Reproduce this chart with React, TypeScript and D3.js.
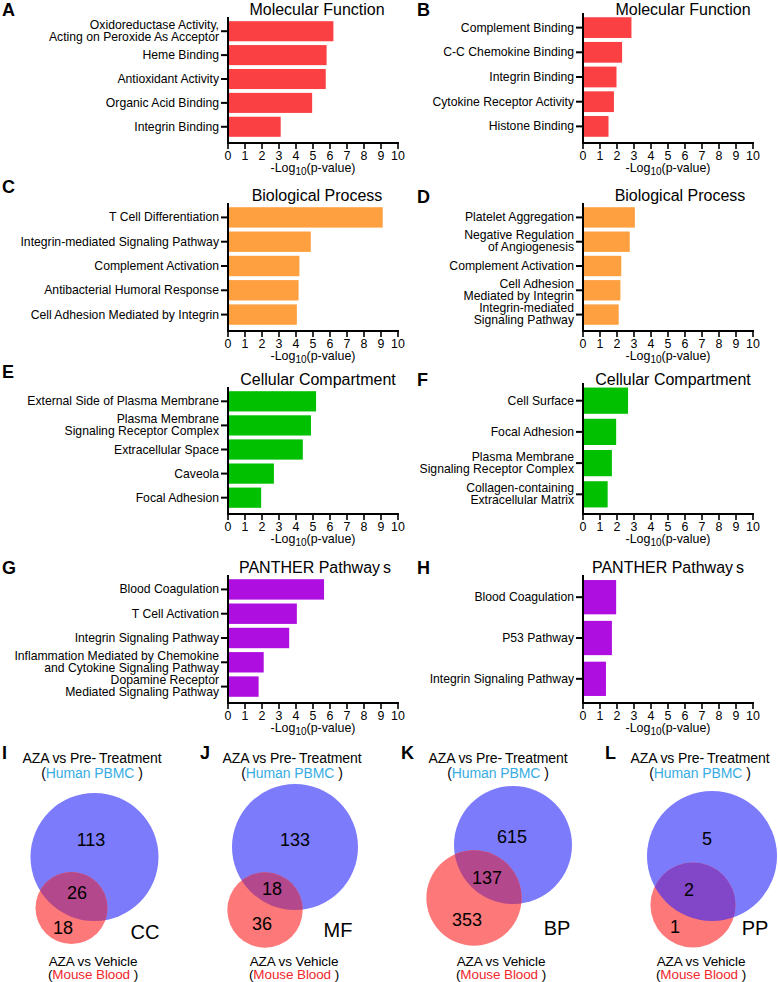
import * as d3 from "d3";
import * as React from "react";

const FONT = "'Liberation Sans', Arial, Helvetica, sans-serif";
const W = 778;
const H = 982;

// GO / PANTHER enrichment, -log10(p-value) per term (human PBMC left, mouse blood right)
const mfHumanTerms = ["Oxidoreductase Activity,\nActing on Peroxide As Acceptor", "Heme Binding", "Antioxidant Activity", "Organic Acid Binding", "Integrin Binding"];
const mfHumanValues = [6.2, 5.8, 5.75, 4.95, 3.1];
const mfMouseTerms = ["Complement Binding", "C-C Chemokine Binding", "Integrin Binding", "Cytokine Receptor Activity", "Histone Binding"];
const mfMouseValues = [2.85, 2.3, 1.97, 1.82, 1.5];
const bpHumanTerms = ["T Cell Differentiation", "Integrin-mediated Signaling Pathway", "Complement Activation", "Antibacterial Humoral Response", "Cell Adhesion Mediated by Integrin"];
const bpHumanValues = [9.1, 4.87, 4.2, 4.15, 4.05];
const bpMouseTerms = ["Platelet Aggregation", "Negative Regulation\nof Angiogenesis", "Complement Activation", "Cell Adhesion\nMediated by Integrin", "Integrin-mediated\nSignaling Pathway"];
const bpMouseValues = [3.05, 2.75, 2.25, 2.2, 2.1];
const ccHumanTerms = ["External Side of Plasma Membrane", "Plasma Membrane\nSignaling Receptor Complex", "Extracellular Space", "Caveola", "Focal Adhesion"];
const ccHumanValues = [5.18, 4.88, 4.4, 2.7, 1.95];
const ccMouseTerms = ["Cell Surface", "Focal Adhesion", "Plasma Membrane\nSignaling Receptor Complex", "Collagen-containing\nExtracellular Matrix"];
const ccMouseValues = [2.65, 1.95, 1.7, 1.45];
const ppHumanTerms = ["Blood Coagulation", "T Cell Activation", "Integrin Signaling Pathway", "Inflammation Mediated by Chemokine\nand Cytokine Signaling Pathway", "Dopamine Receptor\nMediated Signaling Pathway"];
const ppHumanValues = [5.65, 4.05, 3.6, 2.1, 1.8];
const ppMouseTerms = ["Blood Coagulation", "P53 Pathway", "Integrin Signaling Pathway"];
const ppMouseValues = [1.95, 1.7, 1.35];

const xDomain = [0, 10];

// overlap counts between the two comparisons
const vennCodes = ["CC", "MF", "BP", "PP"];
const humanOnly = [113, 133, 615, 5];
const sharedTerms = [26, 18, 137, 2];
const mouseOnly = [18, 36, 353, 1];

const RED = "#fa4043";
const ORANGE = "#ffa040";
const GREEN = "#00c000";
const PURPLE = "#ae0ee0";

interface BarPanelProps {
    letter: string;
    title: React.ReactNode;
    terms: string[];
    values: number[];
    color: string;
    x0: number;
    top: number;
    bottom: number;
    letterX: number;
    letterY: number;
    titleX: number;
    titleY: number;
}

function BarPanel(props: BarPanelProps): JSX.Element {
    const x = d3.scaleLinear().domain(xDomain).range([props.x0, props.x0 + 170]);
    const y = d3.scaleBand<string>()
        .domain(props.terms)
        .range([props.top + 3, props.bottom - 5])
        .paddingInner(0.16)
        .paddingOuter(0.05);

    return (
        <g fontFamily={FONT}>
            <text x={props.letterX} y={props.letterY} fontSize={18} fontWeight="bold">{props.letter}</text>
            <text x={props.titleX} y={props.titleY} fontSize={16} textAnchor="middle">{props.title}</text>
            {props.terms.map((t, i) => (
                <rect key={t} x={x(0)} y={y(t)} width={x(props.values[i]) - x(0)}
                    height={y.bandwidth()} fill={props.color} />
            ))}
            {props.terms.map(t => {
                const cy = (y(t) as number) + y.bandwidth() / 2;
                const lines = t.split("\n");
                return (
                    <g key={t}>
                        <line x1={x(0) - 7} x2={x(0)} y1={cy} y2={cy} stroke="black" strokeWidth={2} />
                        {lines.map((l, j) => (
                            <text key={j} x={x(0) - 9} textAnchor="end" fontSize={12.2}
                                y={lines.length === 1 ? cy + 4 : cy + 4 + (j === 0 ? -6.5 : 5.5)}>{l}</text>
                        ))}
                    </g>
                );
            })}
            <line x1={x(0)} x2={x(0)} y1={props.top} y2={props.bottom + 1} stroke="black" strokeWidth={2} />
            <line x1={x(0) - 1} x2={x(10) + 1} y1={props.bottom} y2={props.bottom} stroke="black" strokeWidth={2} />
            {x.ticks(10).map(v => (
                <g key={v}>
                    <line x1={x(v)} x2={x(v)} y1={props.bottom} y2={props.bottom + 6} stroke="black" strokeWidth={1.6} />
                    <text x={x(v)} y={props.bottom + 17} fontSize={12.4} textAnchor="middle">{v}</text>
                </g>
            ))}
            <text x={x(5)} y={props.bottom + 29} fontSize={12.4} textAnchor="middle">
                -Log<tspan fontSize={10} dy={3}>10</tspan><tspan dy={-3}>(p-value)</tspan>
            </text>
        </g>
    );
}

interface VennLayout {
    letter: string;
    letterX: number;
    textX: number;
    bottomX: number;
    blue: [number, number];
    red: [number, number];
    rMax: number;
    overlap: string;
    humanPos: [number, number];
    sharedPos: [number, number];
    mousePos: [number, number];
    codePos: [number, number];
}

const vennLayout: VennLayout[] = [
    { letter: "I", letterX: 2, textX: 92, bottomX: 93, blue: [94.5, 857], red: [71.5, 908], rMax: 64, overlap: "#b4488c",
      humanPos: [91, 840], sharedPos: [77, 893], mousePos: [63, 928], codePos: [145, 932] },
    { letter: "J", letterX: 200, textX: 292, bottomX: 294, blue: [295, 847], red: [265, 910], rMax: 63, overlap: "#b4488c",
      humanPos: [295, 840], sharedPos: [272, 889], mousePos: [262, 924], codePos: [338, 930] },
    { letter: "K", letterX: 401, textX: 498, bottomX: 501, blue: [513, 845], red: [474, 898], rMax: 59, overlap: "#b4488c",
      humanPos: [512, 837], sharedPos: [487, 878], mousePos: [467, 920], codePos: [557, 928] },
    { letter: "L", letterX: 605, textX: 700, bottomX: 701, blue: [712, 856], red: [693, 905], rMax: 65, overlap: "#8246c8",
      humanPos: [707, 839], sharedPos: [689, 890], mousePos: [675, 927], codePos: [755, 928] },
];

function Venn({ i }: { i: number }): JSX.Element {
    const L = vennLayout[i];
    const humanTotal = humanOnly[i] + sharedTerms[i];
    const mouseTotal = mouseOnly[i] + sharedTerms[i];
    // circle area proportional to the number of terms
    const r = d3.scaleSqrt().domain([0, Math.max(humanTotal, mouseTotal)]).range([0, L.rMax]);
    const rb = r(humanTotal);
    const rr = r(mouseTotal);
    const clipId = `venn-clip-${i}`;
    const num = (p: [number, number], v: number) => (
        <text x={p[0]} y={p[1] + 6} fontSize={18} textAnchor="middle">{v}</text>
    );
    return (
        <g fontFamily={FONT}>
            <defs>
                <clipPath id={clipId}>
                    <circle cx={L.blue[0]} cy={L.blue[1]} r={rb} />
                </clipPath>
            </defs>
            <text x={L.letterX} y={759} fontSize={18} fontWeight="bold">{L.letter}</text>
            <text x={L.textX} y={763} fontSize={14} textAnchor="middle" letterSpacing={-0.1}>
                AZA vs Pre-<tspan dx={3}>Treatment</tspan>
            </text>
            <text x={L.textX} y={778} fontSize={14} textAnchor="middle" letterSpacing={-0.1}>
                (<tspan fill="#36ace2">Human PBMC</tspan> )
            </text>
            <circle cx={L.blue[0]} cy={L.blue[1]} r={rb} fill="#7b7bfc" />
            <circle cx={L.red[0]} cy={L.red[1]} r={rr} fill="#fd7878" />
            <circle cx={L.red[0]} cy={L.red[1]} r={rr} fill={L.overlap} clipPath={`url(#${clipId})`} />
            {num(L.humanPos, humanOnly[i])}
            {num(L.sharedPos, sharedTerms[i])}
            {num(L.mousePos, mouseOnly[i])}
            <text x={L.codePos[0]} y={L.codePos[1] + 7} fontSize={20} textAnchor="middle">{vennCodes[i]}</text>
            <text x={L.bottomX} y={966} fontSize={13.5} textAnchor="middle" letterSpacing={-0.1}>AZA vs Vehicle</text>
            <text x={L.bottomX} y={979} fontSize={13.5} textAnchor="middle" letterSpacing={-0.1}>
                (<tspan fill="#f0282d">Mouse Blood</tspan> )
            </text>
        </g>
    );
}

const panthers = <>PANTHER Pathway<tspan dx={3}>s</tspan></>;

const barPanels: BarPanelProps[] = [
    { letter: "A", title: "Molecular Function", terms: mfHumanTerms, values: mfHumanValues, color: RED,
      x0: 228, top: 17, bottom: 143, letterX: 2, letterY: 16, titleX: 317, titleY: 15 },
    { letter: "B", title: "Molecular Function", terms: mfMouseTerms, values: mfMouseValues, color: RED,
      x0: 583, top: 13, bottom: 143, letterX: 417, letterY: 16, titleX: 683, titleY: 15 },
    { letter: "C", title: "Biological Process", terms: bpHumanTerms, values: bpHumanValues, color: ORANGE,
      x0: 228, top: 203, bottom: 331, letterX: 2, letterY: 193, titleX: 317, titleY: 201 },
    { letter: "D", title: "Biological Process", terms: bpMouseTerms, values: bpMouseValues, color: ORANGE,
      x0: 583, top: 203, bottom: 331, letterX: 417, letterY: 203, titleX: 680, titleY: 201 },
    { letter: "E", title: "Cellular Compartment", terms: ccHumanTerms, values: ccHumanValues, color: GREEN,
      x0: 228, top: 387, bottom: 514, letterX: 2, letterY: 378, titleX: 318, titleY: 385 },
    { letter: "F", title: "Cellular Compartment", terms: ccMouseTerms, values: ccMouseValues, color: GREEN,
      x0: 583, top: 383, bottom: 514, letterX: 417, letterY: 386, titleX: 673, titleY: 385 },
    { letter: "G", title: panthers, terms: ppHumanTerms, values: ppHumanValues, color: PURPLE,
      x0: 228, top: 575, bottom: 703, letterX: 2, letterY: 574, titleX: 315, titleY: 573 },
    { letter: "H", title: panthers, terms: ppMouseTerms, values: ppMouseValues, color: PURPLE,
      x0: 583, top: 575, bottom: 703, letterX: 417, letterY: 574, titleX: 668, titleY: 573 },
];

export default function App(): JSX.Element {
    return (
        <svg width={W} height={H} style={{ position: "absolute", left: 0, top: 0, background: "white" }}>
            {barPanels.map(p => <BarPanel key={p.letter} {...p} />)}
            {vennLayout.map((_, i) => <Venn key={i} i={i} />)}
        </svg>
    );
}
